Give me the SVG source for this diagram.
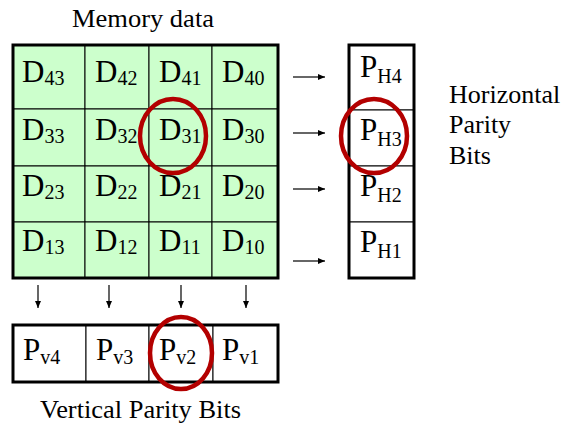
<svg xmlns="http://www.w3.org/2000/svg" width="566" height="426" viewBox="0 0 566 426">
<defs>
<style>
text{font-family:"Liberation Serif","Tinos","DejaVu Serif","Noto Serif",serif;fill:#000}
.lbl{font-size:25px}
.d{font-size:31px}
.s{font-size:20px}
.cell{fill:#ccffcc;stroke:#000;stroke-width:1}
.wcell{fill:#fff;stroke:#000;stroke-width:1}
.frame{fill:none;stroke:#000;stroke-width:3}
.ring{fill:none;stroke:#b30000;stroke-width:4.5}
.arr{stroke:#000;stroke-width:1.2;fill:none;marker-end:url(#ah)}
</style>
<marker id="ah" markerUnits="userSpaceOnUse" markerWidth="8" markerHeight="8" refX="7" refY="4" orient="auto">
<path d="M0,1 L7,4 L0,7 Z" fill="#000"/>
</marker>
</defs>
<rect width="566" height="426" fill="#fff"/>
<text class="lbl" x="72" y="27" textLength="142" lengthAdjust="spacingAndGlyphs">Memory data</text>
<g id="memory">
<g id="d43"><rect class="cell" x="13" y="45" width="72" height="64"/><text class="d" x="22" y="82">D<tspan class="s" dy="3">43</tspan></text></g>
<g id="d42"><rect class="cell" x="85" y="45" width="64" height="64"/><text class="d" x="95" y="82">D<tspan class="s" dy="3">42</tspan></text></g>
<g id="d41"><rect class="cell" x="149" y="45" width="63" height="64"/><text class="d" x="159" y="82">D<tspan class="s" dy="3">41</tspan></text></g>
<g id="d40"><rect class="cell" x="212" y="45" width="66" height="64"/><text class="d" x="222" y="82">D<tspan class="s" dy="3">40</tspan></text></g>
<g id="d33"><rect class="cell" x="13" y="109" width="72" height="57"/><text class="d" x="22" y="140">D<tspan class="s" dy="3">33</tspan></text></g>
<g id="d32"><rect class="cell" x="85" y="109" width="64" height="57"/><text class="d" x="95" y="140">D<tspan class="s" dy="3">32</tspan></text></g>
<g id="d31"><rect class="cell" x="149" y="109" width="63" height="57"/><text class="d" x="159" y="140">D<tspan class="s" dy="3">31</tspan></text></g>
<g id="d30"><rect class="cell" x="212" y="109" width="66" height="57"/><text class="d" x="222" y="140">D<tspan class="s" dy="3">30</tspan></text></g>
<g id="d23"><rect class="cell" x="13" y="166" width="72" height="56"/><text class="d" x="22" y="196">D<tspan class="s" dy="3">23</tspan></text></g>
<g id="d22"><rect class="cell" x="85" y="166" width="64" height="56"/><text class="d" x="95" y="196">D<tspan class="s" dy="3">22</tspan></text></g>
<g id="d21"><rect class="cell" x="149" y="166" width="63" height="56"/><text class="d" x="159" y="196">D<tspan class="s" dy="3">21</tspan></text></g>
<g id="d20"><rect class="cell" x="212" y="166" width="66" height="56"/><text class="d" x="222" y="196">D<tspan class="s" dy="3">20</tspan></text></g>
<g id="d13"><rect class="cell" x="13" y="222" width="72" height="56"/><text class="d" x="22" y="251">D<tspan class="s" dy="3">13</tspan></text></g>
<g id="d12"><rect class="cell" x="85" y="222" width="64" height="56"/><text class="d" x="95" y="251">D<tspan class="s" dy="3">12</tspan></text></g>
<g id="d11"><rect class="cell" x="149" y="222" width="63" height="56"/><text class="d" x="159" y="251">D<tspan class="s" dy="3">11</tspan></text></g>
<g id="d10"><rect class="cell" x="212" y="222" width="66" height="56"/><text class="d" x="222" y="251">D<tspan class="s" dy="3">10</tspan></text></g>
<rect class="frame" x="13" y="45" width="265" height="233"/>
</g>
<g id="hparity">
<g id="ph4"><rect class="wcell" x="349" y="45" width="65" height="65"/><text class="d" x="360" y="77">P<tspan class="s" dy="6">H4</tspan></text></g>
<g id="ph3"><rect class="wcell" x="349" y="110" width="65" height="56"/><text class="d" x="360" y="140">P<tspan class="s" dy="6">H3</tspan></text></g>
<g id="ph2"><rect class="wcell" x="349" y="166" width="65" height="56"/><text class="d" x="360" y="196">P<tspan class="s" dy="6">H2</tspan></text></g>
<g id="ph1"><rect class="wcell" x="349" y="222" width="65" height="56"/><text class="d" x="360" y="252">P<tspan class="s" dy="6">H1</tspan></text></g>
<rect class="frame" x="349" y="45" width="65" height="233"/>
</g>
<g id="vparity">
<g id="pv4"><rect class="wcell" x="13" y="325" width="73" height="57"/><text class="d" x="23" y="360">P<tspan class="s" dy="4">v4</tspan></text></g>
<g id="pv3"><rect class="wcell" x="86" y="325" width="63" height="57"/><text class="d" x="96" y="360">P<tspan class="s" dy="4">v3</tspan></text></g>
<g id="pv2"><rect class="wcell" x="149" y="325" width="64" height="57"/><text class="d" x="159" y="360">P<tspan class="s" dy="4">v2</tspan></text></g>
<g id="pv1"><rect class="wcell" x="213" y="325" width="65" height="57"/><text class="d" x="222" y="360">P<tspan class="s" dy="4">v1</tspan></text></g>
<rect class="frame" x="13" y="325" width="265" height="57"/>
</g>
<g id="hlabel"><text font-size="26" x="449" y="103">Horizontal</text><text font-size="26" x="449" y="133">Parity</text><text font-size="26" x="449" y="164">Bits</text></g>
<text class="lbl" x="40" y="418" textLength="201" lengthAdjust="spacingAndGlyphs">Vertical Parity Bits</text>
<g id="connectors">
<line class="arr" x1="293" y1="77" x2="325" y2="77"/>
<line class="arr" x1="293" y1="133" x2="325" y2="133"/>
<line class="arr" x1="293" y1="189" x2="325" y2="189"/>
<line class="arr" x1="293" y1="261" x2="325" y2="261"/>
<line class="arr" x1="38" y1="285" x2="38" y2="308"/>
<line class="arr" x1="109" y1="285" x2="109" y2="308"/>
<line class="arr" x1="181" y1="285" x2="181" y2="308"/>
<line class="arr" x1="246" y1="285" x2="246" y2="308"/>
</g>
<g id="highlights">
<ellipse class="ring" cx="173" cy="136" rx="33" ry="37"/>
<ellipse class="ring" cx="374" cy="136" rx="33" ry="37"/>
<ellipse class="ring" cx="181" cy="353" rx="31" ry="36"/>
</g>
</svg>
